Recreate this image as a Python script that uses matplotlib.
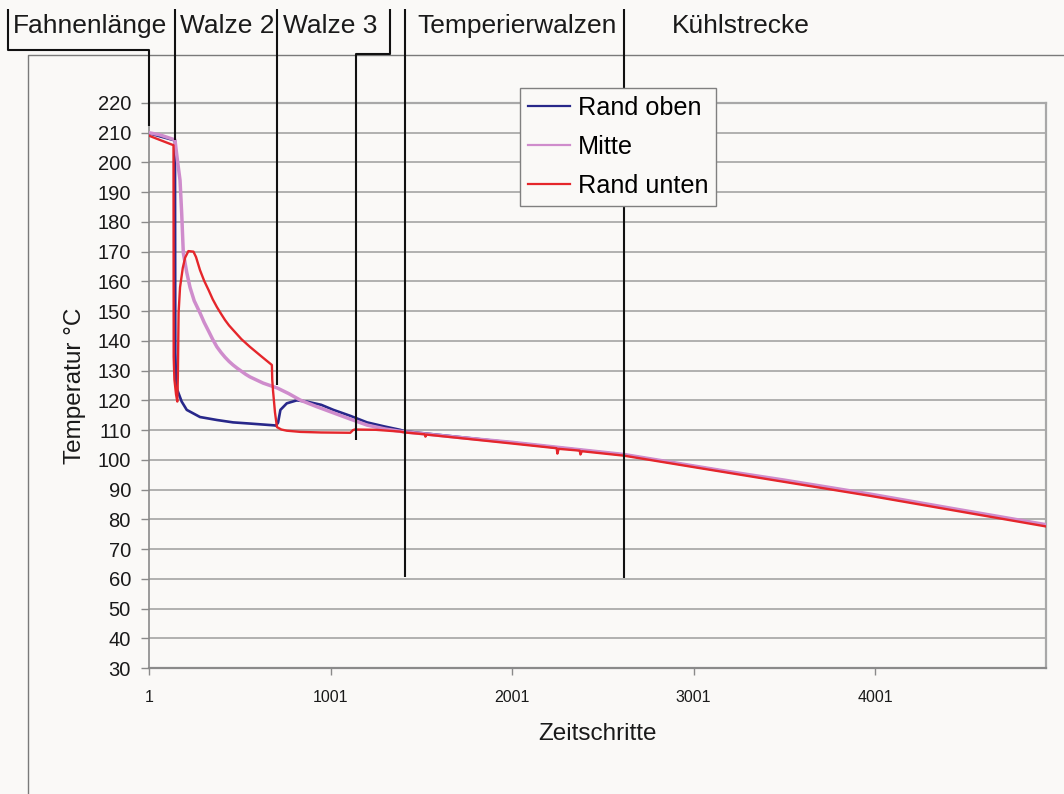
import matplotlib
matplotlib.use('Agg')
import matplotlib.pyplot as plt
from matplotlib.lines import Line2D

plt.rcParams['font.family'] = ['Liberation Sans', 'DejaVu Sans']

# ---------------- data ----------------
x_ticks = [1, 1001, 2001, 3001, 4001]
y_ticks = list(range(30, 221, 10))
x_max = 4943

series_names = ["Rand oben", "Mitte", "Rand unten"]

steps_oben = [1, 144, 146, 150, 157, 181, 209, 282, 375, 464, 557, 690, 700, 712, 725,
              760, 815, 870, 950, 1017, 1110, 1202, 1300, 1384, 1411, 2000, 2618, 3037,
              3973, 4943]
temp_oben = [209.8, 207.4, 136.0, 127.0, 123.5, 119.6, 116.8, 114.4, 113.4, 112.6, 112.2,
             111.6, 111.5, 112.5, 116.8, 119.0, 120.0, 119.6, 118.5, 116.8, 114.8, 112.6,
             111.2, 110.1, 109.6, 105.8, 101.7, 97.5, 88.2, 78.0]

steps_mitte = [1, 60, 144, 157, 172, 181, 190, 209, 227, 250, 282, 305, 330, 352, 375, 398,
               420, 442, 464, 487, 510, 533, 557, 630, 706, 770, 834, 920, 1017, 1110, 1202,
               1300, 1384, 1411, 1700, 2000, 2300, 2618, 3037, 3147, 3500, 3973, 4450, 4943]
temp_mitte = [210.0, 209.3, 207.6, 201.0, 194.0, 183.0, 169.6, 163.0, 158.0, 153.5, 149.4,
              146.2, 143.2, 140.5, 138.0, 136.1, 134.5, 133.1, 131.9, 130.8, 129.8, 128.8,
              127.9, 125.8, 124.2, 122.3, 120.1, 118.0, 115.8, 113.7, 111.7, 110.4, 109.6,
              109.4, 107.6, 105.9, 103.9, 101.8, 97.6, 96.5, 93.2, 88.5, 83.4, 78.2]

steps_unten = [1, 136, 137, 141, 150, 157, 160, 164, 172, 187, 200, 218, 246, 260, 282, 305,
               330, 352, 375, 398, 420, 442, 464, 510, 557, 620, 678, 680, 684, 695, 706,
               730, 760, 835, 950, 1110, 1125, 1135, 1250, 1384, 1411, 1520, 1524, 1530,
               2000, 2247, 2251, 2258, 2374, 2378, 2386, 2618, 3037, 3973, 4943]
temp_unten = [209.0, 205.8, 134.6, 127.0, 122.0, 119.6, 128.0, 149.4, 158.0, 164.5, 168.0,
              170.2, 170.0, 168.2, 163.8, 160.2, 157.0, 154.0, 151.4, 149.1, 147.0, 145.2,
              143.7, 140.6, 138.0, 134.8, 131.9, 127.0, 123.5, 116.0, 111.0, 110.2, 109.8,
              109.4, 109.2, 109.1, 110.0, 110.2, 110.1, 109.5, 109.2, 108.6, 107.8, 108.5,
              105.5, 103.9, 102.1, 103.7, 103.1, 101.8, 102.9, 101.4, 97.2, 87.9, 77.6]

section_labels = ["Fahnenlänge", "Walze 2", "Walze 3", "Temperierwalzen", "Kühlstrecke"]
section_bounds = [1, 144, 706, 1141, 1411, 2618]

# ---------------- style ----------------
W, H = 1064, 794
BG = '#faf9f7'
C_OBEN = '#28288a'
C_MITTE = '#cf8ccc'
C_UNTEN = '#e5262b'
GRID = '#a4a4a4'

fig = plt.figure(figsize=(W / 100, H / 100), dpi=100, facecolor=BG)
ax = fig.add_axes([149 / W, 1 - 668 / H, 897 / W, 565 / H])
ax.set_facecolor(BG)

l1, = ax.plot(steps_oben, temp_oben, color=C_OBEN, lw=1.9, zorder=3)
l2, = ax.plot(steps_mitte, temp_mitte, color=C_MITTE, lw=2.5, zorder=4)
l3, = ax.plot(steps_unten, temp_unten, color=C_UNTEN, lw=1.7, zorder=5)

ax.set_xlim(1, x_max)
ax.set_ylim(30, 220)
ax.set_xticks(x_ticks)
ax.set_xticklabels([str(t) for t in x_ticks])
ax.set_yticks(y_ticks)
ax.yaxis.grid(True, color=GRID, lw=1.2)
ax.set_axisbelow(True)

for s in ['top', 'right']:
    ax.spines[s].set_color('#a8a8a8')
    ax.spines[s].set_linewidth(1.6)
ax.spines['left'].set_color('#8a8a8a')
ax.spines['left'].set_linewidth(1.2)
ax.spines['bottom'].set_color('#8a8a8a')
ax.spines['bottom'].set_linewidth(1.6)

ax.tick_params(axis='y', length=6, width=1, color='#8a8a8a', pad=7, labelsize=14.5,
               labelcolor='#1a1a1a')
ax.tick_params(axis='x', length=5, width=1, color='#8a8a8a', pad=11, labelsize=11.5,
               labelcolor='#1a1a1a')

ax.set_xlabel("Zeitschritte", fontsize=17.5, labelpad=13, color='#1a1a1a')
ax.set_ylabel("Temperatur °C", fontsize=17.5, labelpad=8, color='#1a1a1a')

# ---------------- annotation header ----------------
def fxy(px, py):
    return px / W, 1 - py / H

def data_px(step):
    return ax.transData.transform((step, 0))[0] * (W / fig.bbox.width)

def poly(points, color='#111111', lw=1.5):
    xs = [fxy(p[0], p[1])[0] for p in points]
    ys = [fxy(p[0], p[1])[1] for p in points]
    fig.add_artist(Line2D(xs, ys, color=color, lw=lw, transform=fig.transFigure,
                          zorder=3, solid_capstyle='butt'))

# chart area border
poly([(28, H), (28, 55), (W, 55)], color='#7a7a7a', lw=1.0)

b = [data_px(s) for s in section_bounds]
top = 9
poly([(8, top), (8, 50), (b[0], 50), (b[0], 126)])
poly([(b[1], top), (b[1], 140)])
poly([(b[2], top), (b[2], 385)])
poly([(390, top), (390, 54), (b[3], 54), (b[3], 440)])
poly([(b[4], top), (b[4], 577)])
poly([(b[5], top), (b[5], 578)])

label_x = [13, 180, 283, 417, 672]
for lx, txt in zip(label_x, section_labels):
    fx, fy = fxy(lx, 33)
    fig.text(fx, fy, txt, fontsize=19, ha='left', va='baseline', color='#1a1a1a')

# ---------------- legend ----------------
leg = fig.legend([l1, l2, l3], series_names, loc='upper left',
                 bbox_to_anchor=fxy(520, 88), bbox_transform=fig.transFigure,
                 fontsize=18.2, frameon=True, fancybox=False, framealpha=1,
                 edgecolor='#808080', facecolor=BG, handlelength=1.65,
                 handletextpad=0.3, labelspacing=0.58, borderpad=0.33,
                 borderaxespad=0)
leg.get_frame().set_linewidth(1.0)
leg.set_zorder(10)
for h in leg.get_lines():
    h.set_linewidth(1.6)

fig.savefig('out.png', dpi=100, facecolor=BG)
